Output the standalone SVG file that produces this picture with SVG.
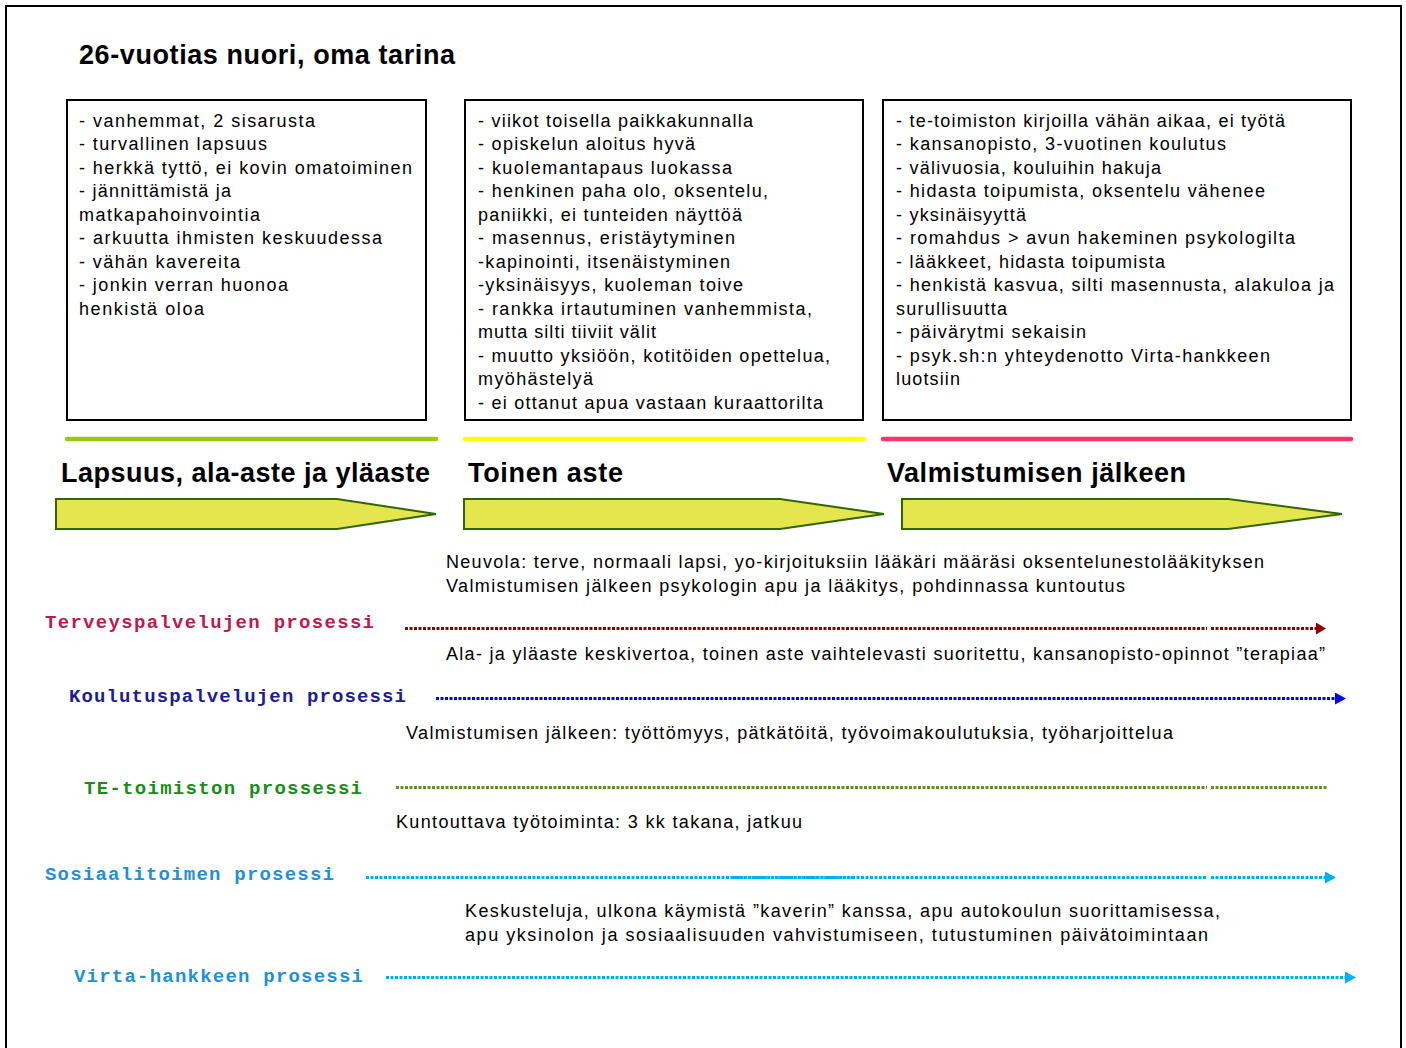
<svg xmlns="http://www.w3.org/2000/svg" width="1406" height="1048" viewBox="0 0 1406 1048">
<style>
.t{font-family:"Liberation Sans",Arial,sans-serif;font-size:18px;fill:#000}
.h{font-family:"Liberation Sans",Arial,sans-serif;font-size:27px;font-weight:bold;fill:#000}
.m{font-family:"Liberation Mono","Courier New",monospace;font-size:19px;font-weight:bold}
.box{fill:#fff;stroke:#000;stroke-width:2}
.arr{fill:#e5e54d;stroke:#336600;stroke-width:2}
.ph{stroke-width:4.5;stroke-linecap:round;fill:none}
.pl{stroke-width:3;stroke-dasharray:3 1.5;fill:none}
</style>
<defs>
<marker id="ar-red" viewBox="0 0 10 12" refX="0" refY="6" markerWidth="10" markerHeight="12" markerUnits="userSpaceOnUse" orient="auto"><path d="M0,0L10,6L0,12Z" fill="#8b0000"/></marker>
<marker id="ar-blue" viewBox="0 0 11 12" refX="0" refY="6" markerWidth="11" markerHeight="12" markerUnits="userSpaceOnUse" orient="auto"><path d="M0,0L11,6L0,12Z" fill="#0000ff"/></marker>
<marker id="ar-cyan" viewBox="0 0 11 12" refX="0" refY="6" markerWidth="11" markerHeight="12" markerUnits="userSpaceOnUse" orient="auto"><path d="M0,0L11,6L0,12Z" fill="#00b0f0"/></marker>
</defs>
<rect x="0" y="0" width="1406" height="1048" fill="#fff"/>
<rect x="6" y="6" width="1395" height="1060" fill="none" stroke="#000" stroke-width="2"/>
<text class="h" x="79" y="64" font-size="26" textLength="376" lengthAdjust="spacing">26-vuotias nuori, oma tarina</text>

<g id="box1">
<rect class="box" x="67" y="100" width="359" height="320"/>
<text class="t" x="79" y="127" textLength="236" lengthAdjust="spacing">- vanhemmat, 2 sisarusta</text>
<text class="t" x="79" y="150" textLength="188" lengthAdjust="spacing">- turvallinen lapsuus</text>
<text class="t" x="79" y="174" textLength="333" lengthAdjust="spacing">- herkkä tyttö, ei kovin omatoiminen</text>
<text class="t" x="79" y="197" textLength="152" lengthAdjust="spacing">- jännittämistä ja</text>
<text class="t" x="79" y="221" textLength="181" lengthAdjust="spacing">matkapahoinvointia</text>
<text class="t" x="79" y="244" textLength="303" lengthAdjust="spacing">- arkuutta ihmisten keskuudessa</text>
<text class="t" x="79" y="268" textLength="161" lengthAdjust="spacing">- vähän kavereita</text>
<text class="t" x="79" y="291" textLength="209" lengthAdjust="spacing">- jonkin verran huonoa</text>
<text class="t" x="79" y="315" textLength="125" lengthAdjust="spacing">henkistä oloa</text>
</g>

<g id="box2">
<rect class="box" x="465" y="100" width="398" height="320"/>
<text class="t" x="478" y="127" textLength="275" lengthAdjust="spacing">- viikot toisella paikkakunnalla</text>
<text class="t" x="478" y="150" textLength="217" lengthAdjust="spacing">- opiskelun aloitus hyvä</text>
<text class="t" x="478" y="174" textLength="254" lengthAdjust="spacing">- kuolemantapaus luokassa</text>
<text class="t" x="478" y="197" textLength="290" lengthAdjust="spacing">- henkinen paha olo, oksentelu,</text>
<text class="t" x="478" y="221" textLength="264" lengthAdjust="spacing">paniikki, ei tunteiden näyttöä</text>
<text class="t" x="478" y="244" textLength="257" lengthAdjust="spacing">- masennus, eristäytyminen</text>
<text class="t" x="478" y="268" textLength="252" lengthAdjust="spacing">-kapinointi, itsenäistyminen</text>
<text class="t" x="478" y="291" textLength="265" lengthAdjust="spacing">-yksinäisyys, kuoleman toive</text>
<text class="t" x="478" y="315" textLength="334" lengthAdjust="spacing">- rankka irtautuminen vanhemmista,</text>
<text class="t" x="478" y="338" textLength="178" lengthAdjust="spacing">mutta silti tiiviit välit</text>
<text class="t" x="478" y="362" textLength="352" lengthAdjust="spacing">- muutto yksiöön, kotitöiden opettelua,</text>
<text class="t" x="478" y="385" textLength="115" lengthAdjust="spacing">myöhästelyä</text>
<text class="t" x="478" y="409" textLength="345" lengthAdjust="spacing">- ei ottanut apua vastaan kuraattorilta</text>
</g>

<g id="box3">
<rect class="box" x="883" y="100" width="468" height="320"/>
<text class="t" x="896" y="127" textLength="389" lengthAdjust="spacing">- te-toimiston kirjoilla vähän aikaa, ei työtä</text>
<text class="t" x="896" y="150" textLength="330" lengthAdjust="spacing">- kansanopisto, 3-vuotinen koulutus</text>
<text class="t" x="896" y="174" textLength="265" lengthAdjust="spacing">- välivuosia, kouluihin hakuja</text>
<text class="t" x="896" y="197" textLength="369" lengthAdjust="spacing">- hidasta toipumista, oksentelu vähenee</text>
<text class="t" x="896" y="221" textLength="130" lengthAdjust="spacing">- yksinäisyyttä</text>
<text class="t" x="896" y="244" textLength="399" lengthAdjust="spacing">- romahdus &gt; avun hakeminen psykologilta</text>
<text class="t" x="896" y="268" textLength="269" lengthAdjust="spacing">- lääkkeet, hidasta toipumista</text>
<text class="t" x="896" y="291" textLength="438" lengthAdjust="spacing">- henkistä kasvua, silti masennusta, alakuloa ja</text>
<text class="t" x="896" y="315" textLength="111" lengthAdjust="spacing">surullisuutta</text>
<text class="t" x="896" y="338" textLength="190" lengthAdjust="spacing">- päivärytmi sekaisin</text>
<text class="t" x="896" y="362" textLength="374" lengthAdjust="spacing">- psyk.sh:n yhteydenotto Virta-hankkeen</text>
<text class="t" x="896" y="385" textLength="64" lengthAdjust="spacing">luotsiin</text>
</g>

<g id="phase1">
<line class="ph" x1="67" y1="439" x2="436" y2="439" stroke="#99cc00"/>
<text class="h" x="61" y="482" textLength="369" lengthAdjust="spacing">Lapsuus, ala-aste ja yläaste</text>
<polygon class="arr" points="56,499 337,499 436,514 337,529 56,529"/>
</g>
<g id="phase2">
<line class="ph" x1="465" y1="439" x2="864" y2="439" stroke="#ffff00"/>
<text class="h" x="468" y="482" textLength="155" lengthAdjust="spacing">Toinen aste</text>
<polygon class="arr" points="464,499 780,499 884,514 780,529 464,529"/>
</g>
<g id="phase3">
<line class="ph" x1="883" y1="439" x2="1351" y2="439" stroke="#ff3366"/>
<text class="h" x="887" y="482" textLength="299" lengthAdjust="spacing">Valmistumisen jälkeen</text>
<polygon class="arr" points="902,499 1228,499 1342,514 1228,529 902,529"/>
</g>

<g id="p1">
<text class="t" x="446" y="568" textLength="818" lengthAdjust="spacing">Neuvola: terve, normaali lapsi, yo-kirjoituksiin lääkäri määräsi oksentelunestolääkityksen</text>
<text class="t" x="446" y="592" textLength="679" lengthAdjust="spacing">Valmistumisen jälkeen psykologin apu ja lääkitys, pohdinnassa kuntoutus</text>
<text class="m" x="45" y="628" fill="#c0184c" textLength="329" lengthAdjust="spacing">Terveyspalvelujen prosessi</text>
</g>
<g id="p2">
<text class="t" x="446" y="660" textLength="879" lengthAdjust="spacing">Ala- ja yläaste keskivertoa, toinen aste vaihtelevasti suoritettu, kansanopisto-opinnot ”terapiaa”</text>
<text class="m" x="69" y="702" fill="#1c1c96" textLength="337" lengthAdjust="spacing">Koulutuspalvelujen prosessi</text>
</g>
<g id="p3">
<text class="t" x="406" y="739" textLength="767" lengthAdjust="spacing">Valmistumisen jälkeen: työttömyys, pätkätöitä, työvoimakoulutuksia, työharjoittelua</text>
<text class="m" x="84" y="794" fill="#1a8a1a" textLength="278" lengthAdjust="spacing">TE-toimiston prossessi</text>
</g>
<g id="p4">
<text class="t" x="396" y="828" textLength="406" lengthAdjust="spacing">Kuntouttava työtoiminta: 3 kk takana, jatkuu</text>
<text class="m" x="45" y="880" fill="#1e90d8" textLength="289" lengthAdjust="spacing">Sosiaalitoimen prosessi</text>
</g>
<g id="p5">
<text class="t" x="465" y="917" textLength="755" lengthAdjust="spacing">Keskusteluja, ulkona käymistä ”kaverin” kanssa, apu autokoulun suorittamisessa,</text>
<text class="t" x="465" y="941" textLength="743" lengthAdjust="spacing">apu yksinolon ja sosiaalisuuden vahvistumiseen, tutustuminen päivätoimintaan</text>
<text class="m" x="74" y="982" fill="#1e90d8" textLength="289" lengthAdjust="spacing">Virta-hankkeen prosessi</text>
</g>

<g id="connectors">
<line class="pl" x1="405" y1="628.5" x2="1207" y2="628.5" stroke="#8b0000"/>
<line class="pl" x1="1211" y1="628.5" x2="1316" y2="628.5" stroke="#8b0000" marker-end="url(#ar-red)"/>
<line class="pl" x1="436" y1="698.5" x2="1335" y2="698.5" stroke="#0000ff" marker-end="url(#ar-blue)"/>
<line class="pl" x1="396" y1="787.5" x2="1207" y2="787.5" stroke="#5e8f2a"/>
<line class="pl" x1="1211" y1="787.5" x2="1328" y2="787.5" stroke="#5e8f2a"/>
<line class="pl" x1="366" y1="877.5" x2="1207" y2="877.5" stroke="#00b0f0"/>
<line x1="733" y1="877.5" x2="855" y2="877.5" stroke="#00b0f0" stroke-width="3" stroke-dasharray="3 0.8"/>
<line class="pl" x1="1211" y1="877.5" x2="1325" y2="877.5" stroke="#00b0f0" marker-end="url(#ar-cyan)"/>
<line class="pl" x1="386" y1="977.5" x2="1345" y2="977.5" stroke="#00b0f0" marker-end="url(#ar-cyan)"/>
</g>
</svg>
